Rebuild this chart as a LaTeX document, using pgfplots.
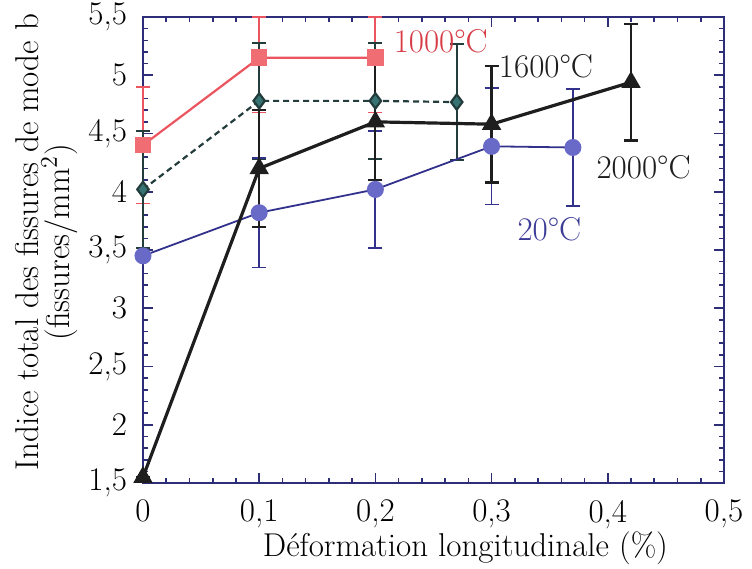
\documentclass[border=0pt]{standalone}
\usepackage{fontspec}
\usepackage{pgfplots}
\usepackage{pgfplotstable}
\pgfplotsset{compat=1.18}
\definecolor{axblue}{RGB}{45,45,120}
\definecolor{redline}{RGB}{235,85,95}
\definecolor{redfill}{RGB}{240,110,115}
\definecolor{redtext}{RGB}{215,60,70}
\definecolor{tealline}{RGB}{35,60,60}
\definecolor{tealfill}{RGB}{55,115,115}
\definecolor{blueline}{RGB}{50,50,140}
\definecolor{bluefill}{RGB}{105,105,200}
\definecolor{bluetext}{RGB}{60,60,150}
\definecolor{blk}{RGB}{30,30,30}
\newcommand{\fs}{\fontsize{16.5}{19}\selectfont}

\pgfplotstableread{
x y ep em
0 4.40 0.50 0.50
0.1 5.15 0.35 0.47
0.2 5.15 0.35 0.47
}\tabred
\pgfplotstableread{
x y ep em
0 4.02 0.50 0.50
0.1 4.78 0.50 0.50
0.2 4.78 0.50 0.50
0.27 4.77 0.50 0.50
}\tabteal
\pgfplotstableread{
x y ep em
0 1.55 0 0
0.1 4.20 0.50 0.50
0.2 4.60 0.50 0.50
0.3 4.58 0.50 0.50
0.42 4.94 0.50 0.50
}\tabblack
\pgfplotstableread{
x y ep em
0 3.45 0 0
0.1 3.82 0.47 0.47
0.2 4.02 0.50 0.50
0.3 4.39 0.50 0.50
0.37 4.38 0.50 0.50
}\tabblue

\begin{document}
\begin{tikzpicture}
\begin{axis}[
  scale only axis, width=290.5pt, height=233pt,
  at={(0,0)}, anchor=south west,
  xmin=0, xmax=0.5, ymin=1.5, ymax=5.5,
  clip=false,
  xtick={0,0.1,0.2,0.3,0.4,0.5},
  xticklabels={0,{0,1},{0,2},{0,3},{0,4},{0,5}},
  ytick={1.5,2,2.5,3,3.5,4,4.5,5,5.5},
  yticklabels={{1,5},2,{2,5},3,{3,5},4,{4,5},5,{5,5}},
  minor x tick num=4, minor y tick num=4,
  tick align=inside, major tick length=5pt, minor tick length=2.5pt,
  axis line style={axblue, line width=1pt},
  every tick/.style={axblue, line width=0.8pt},
  tick label style={font=\fs, text=black},
  xticklabel style={yshift=-5pt},
  yticklabel style={xshift=-4.5pt},
  xlabel={Déformation longitudinale (\%)},
  ylabel={Indice total des fissures de mode b\\(fissures/mm$^2$)},
  xlabel style={font=\fs, at={(axis description cs:0.555,-0.1395)}, anchor=center},
  ylabel style={font=\fontsize{16.5}{15.5}\selectfont, align=center, at={(axis description cs:-0.166,0.517)}, anchor=center},
]
% 1000 C
\addplot[color=redline, line width=1.1pt, mark=square*, mark size=3.6pt,
  mark options={fill=redfill, draw=redfill, solid},
  error bars/.cd, y dir=both, y explicit,
  error bar style={color=redline, line width=0.9pt},
  error mark options={color=redline, line width=0.9pt, mark size=3.5pt, rotate=90}]
  table[x=x, y=y, y error plus=ep, y error minus=em]{\tabred};
% 1600 C
\addplot[color=tealline, line width=1.1pt, densely dashed, mark=diamond*, mark size=3.8pt,
  mark options={fill=tealfill, draw=tealline, solid},
  error bars/.cd, y dir=both, y explicit,
  error bar style={color=tealline, line width=0.9pt, solid},
  error mark options={color=tealline, line width=0.9pt, mark size=3.5pt, rotate=90}]
  table[x=x, y=y, y error plus=ep, y error minus=em]{\tabteal};
% 20 C
\addplot[color=blueline, line width=0.9pt, mark=*, mark size=3.8pt,
  mark options={fill=bluefill, draw=bluefill, solid},
  error bars/.cd, y dir=both, y explicit,
  error bar style={color=blueline, line width=0.9pt},
  error mark options={color=blueline, line width=0.9pt, mark size=3.5pt, rotate=90}]
  table[x=x, y=y, y error plus=ep, y error minus=em]{\tabblue};
% 2000 C
\addplot[color=blk, line width=1.6pt, mark=triangle*, mark size=4pt,
  mark options={fill=blk, draw=blk, solid},
  error bars/.cd, y dir=both, y explicit,
  error bar style={color=blk, line width=1.1pt},
  error mark options={color=blk, line width=1.1pt, mark size=3.5pt, rotate=90}]
  table[x=x, y=y, y error plus=ep, y error minus=em]{\tabblack};

\node[anchor=west, inner sep=0pt, font=\fs, text=redtext] at (axis cs:0.2155,5.29) {1000\textdegree C};
\node[anchor=west, inner sep=0pt, font=\fs, text=blk] at (axis cs:0.306,5.08) {1600\textdegree C};
\node[anchor=west, inner sep=0pt, font=\fs, text=blk] at (axis cs:0.39,4.21) {2000\textdegree C};
\node[anchor=west, inner sep=0pt, font=\fs, text=bluetext] at (axis cs:0.322,3.676) {20\textdegree C};
\end{axis}
\pgfresetboundingbox
\path[use as bounding box] (-71.5pt,-43pt) rectangle (304.5pt,241.5pt);
\end{tikzpicture}
\end{document}
